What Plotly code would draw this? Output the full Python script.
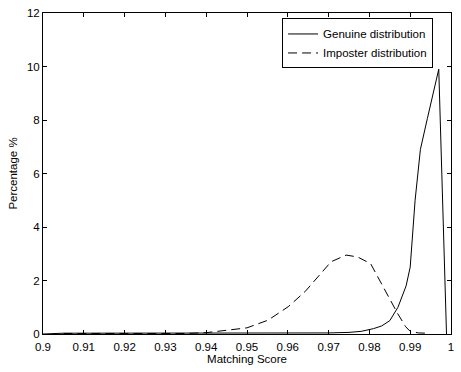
import plotly.graph_objects as go

# Genuine distribution (solid)
gen_x = [0.900, 0.905, 0.91, 0.92, 0.93, 0.94, 0.95, 0.96, 0.97, 0.975, 0.978, 0.981,
         0.983, 0.985, 0.987, 0.989, 0.990, 0.9912, 0.9925, 0.9942, 0.997, 0.9989]
gen_y = [0.0, 0.03, 0.03, 0.03, 0.03, 0.03, 0.03, 0.03, 0.04, 0.06, 0.10, 0.20,
         0.30, 0.50, 1.00, 1.80, 2.50, 5.00, 6.90, 8.05, 9.90, 0.0]

# Imposter distribution (dashed)
imp_x = [0.905, 0.92, 0.935, 0.940, 0.9443, 0.950, 0.9552, 0.9601, 0.9642, 0.9666,
         0.9706, 0.9743, 0.9771, 0.9803, 0.9836, 0.9869, 0.9889, 0.990, 0.992, 0.994]
imp_y = [0.02, 0.02, 0.02, 0.05, 0.12, 0.23, 0.52, 1.02, 1.58, 2.01,
         2.70, 2.95, 2.88, 2.63, 1.70, 0.77, 0.27, 0.10, 0.04, 0.03]

x_ticks = [0.9, 0.91, 0.92, 0.93, 0.94, 0.95, 0.96, 0.97, 0.98, 0.99, 1.0]
x_tick_labels = ["0.9", "0.91", "0.92", "0.93", "0.94", "0.95", "0.96", "0.97", "0.98", "0.99", "1"]
y_ticks = [0, 2, 4, 6, 8, 10, 12]

fig = go.Figure()
fig.add_trace(go.Scatter(x=gen_x, y=gen_y, mode="lines", name="Genuine distribution",
                         line=dict(color="black", width=1)))
fig.add_trace(go.Scatter(x=imp_x, y=imp_y, mode="lines", name="Imposter distribution",
                         line=dict(color="black", width=1, dash="9px,5px")))

font = dict(family="Liberation Sans, Arial, sans-serif", size=11.5, color="black")
fig.update_layout(
    width=461, height=372,
    margin=dict(l=43, r=7, t=12, b=38),
    paper_bgcolor="white", plot_bgcolor="white",
    font=font,
    showlegend=True,
    legend=dict(x=0.956, y=0.983, xanchor="right", yanchor="top",
                bordercolor="black", borderwidth=1, bgcolor="white",
                font=font, tracegroupgap=0, itemwidth=30),
    xaxis=dict(range=[0.9, 1.0], tickvals=x_ticks, ticktext=x_tick_labels,
               ticks="inside", ticklen=4, tickcolor="black", showline=True,
               linecolor="black", linewidth=1, mirror="allticks", showgrid=False,
               zeroline=False, ticklabelstandoff=2,
               title=dict(text="Matching Score", standoff=3, font=font)),
    yaxis=dict(range=[0, 12], tickvals=y_ticks, ticks="inside", ticklen=4,
               tickcolor="black", showline=True, linecolor="black", linewidth=1,
               mirror="allticks", showgrid=False, zeroline=False,
               title=dict(text="Percentage %", standoff=6, font=font)),
)

fig.write_html("out.html")
